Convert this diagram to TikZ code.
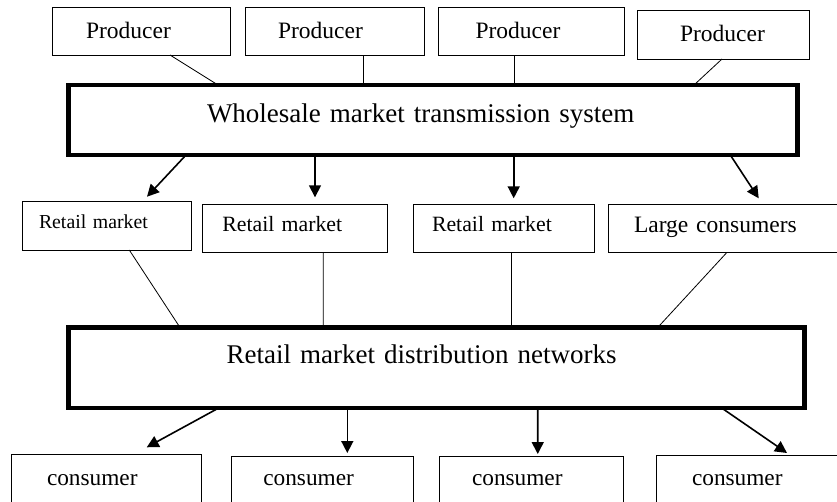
\documentclass[tikz,border=0pt]{standalone}
\usepackage{fontspec}
\setmainfont{Liberation Serif}
\usetikzlibrary{arrows.meta}

\tikzset{
  box/.style={draw, line width=1pt, anchor=north west, outer sep=0pt, inner ysep=0pt, align=left},
  bigbox/.style={box, line width=4.5pt, font=\fontsize{27}{32}\selectfont},
  cell/.style n args={4}{inner xsep=#1, text width=#2, text height=#3, text depth=#4},
  wire/.style={line width=0.8pt},
  feed/.style={line width=1.6pt, -{Triangle[length=12pt,width=12pt]}},
}

\begin{document}
\begin{tikzpicture}[x=1pt, y=-1pt]
  \useasboundingbox (0,0) rectangle (837,501);

  % Producers
  \begin{scope}[font=\fontsize{23.5}{28}\selectfont]
    \node[box, cell={33.5pt}{110.5pt}{30.5pt}{17pt}] (p1) at (52.5,7.5) {Producer};
    \node[box, cell={33pt}{113pt}{30.5pt}{17pt}]     (p2) at (245,7.5)  {Producer};
    \node[box, cell={37.5pt}{111pt}{30.5pt}{17pt}]   (p3) at (438,7.5)  {Producer};
    \node[box, cell={43pt}{86pt}{31pt}{17.3pt}]      (p4) at (637,10.7) {Producer};
  \end{scope}

  % Wholesale level
  \node[bigbox, cell={138.5pt}{452pt}{37pt}{33pt}] (ws) at (68.5,85)
    {Wholesale market transmission system};

  % Retail markets and large consumers
  \node[box, font=\fontsize{19.8}{24}\selectfont, cell={17pt}{135pt}{26.6pt}{21.7pt}]
    (r1) at (22,201.7) {Retail market};
  \node[box, font=\fontsize{21.8}{26}\selectfont, cell={20.3pt}{144.7pt}{27.4pt}{20.6pt}]
    (r2) at (202,204.3) {Retail market};
  \node[box, font=\fontsize{21.8}{26}\selectfont, cell={19pt}{143pt}{27.4pt}{20.6pt}]
    (r3) at (413,204.3) {Retail market};
  \node[box, font=\fontsize{23.5}{28}\selectfont, cell={26pt}{185pt}{28.2pt}{19.8pt}]
    (r4) at (608,204.3) {Large consumers};

  % Distribution level
  \node[bigbox, cell={158.2pt}{419.6pt}{35.5pt}{45.2pt}] (ds) at (68.5,327.5)
    {Retail market distribution networks};

  % Consumers
  \begin{scope}[font=\fontsize{23.3}{28}\selectfont]
    \node[box, cell={35.3pt}{119.4pt}{31pt}{27pt}] (c1) at (11.7,454)  {consumer};
    \node[box, cell={31.6pt}{118.4pt}{29pt}{27pt}] (c2) at (231.7,456) {consumer};
    \node[box, cell={32.3pt}{118.7pt}{29pt}{27pt}] (c3) at (439.7,456) {consumer};
    \node[box, cell={36pt}{117pt}{29.5pt}{27pt}]   (c4) at (656,455.5) {consumer};
  \end{scope}

  % producers -> wholesale
  \draw[wire] ([xshift=28.75pt]p1.south) -- ([xshift=-215pt]ws.north);
  \draw[wire] ([xshift=28.5pt]p2.south)  -- ([xshift=-70pt]ws.north);
  \draw[wire] ([xshift=-17pt]p3.south)   -- ([xshift=81pt]ws.north);
  \draw[wire] ([xshift=-1pt]p4.south)    -- ([xshift=261pt]ws.north);

  % wholesale -> retail
  \draw[feed] ([xshift=-247pt]ws.south) -- ([xshift=40.5pt,yshift=5pt]r1.north);
  \draw[feed] ([xshift=-118pt]ws.south) -- ([xshift=20.35pt,yshift=7pt]r2.north);
  \draw[feed] ([xshift=80.7pt]ws.south) -- ([xshift=10.2pt,yshift=6pt]r3.north);
  \draw[feed] ([xshift=297.3pt]ws.south) -- ([xshift=32.2pt,yshift=6pt]r4.north);

  % retail -> distribution
  \draw[wire] ([xshift=22.8pt]r1.south)  -- ([xshift=-256.5pt]ds.north);
  \draw[wire] ([xshift=28.65pt]r2.south) -- ([xshift=-113.2pt]ds.north);
  \draw[wire] ([xshift=7.8pt]r3.south)   -- ([xshift=74.8pt]ds.north);
  \draw[wire] ([xshift=0.5pt]r4.south)   -- ([xshift=221.2pt]ds.north);

  % distribution -> consumers
  \draw[feed] ([xshift=-218.2pt]ds.south) -- ([xshift=40pt,yshift=6.7pt]c1.north);
  \draw[feed] ([xshift=-89.2pt]ds.south)  -- ([xshift=24.8pt,yshift=3pt]c2.north);
  \draw[feed] ([xshift=101.2pt]ds.south)  -- ([xshift=6.4pt,yshift=2pt]c3.north);
  \draw[feed] ([xshift=285.5pt]ds.south)  -- ([xshift=36.5pt,yshift=2.5pt]c4.north);
\end{tikzpicture}
\end{document}
